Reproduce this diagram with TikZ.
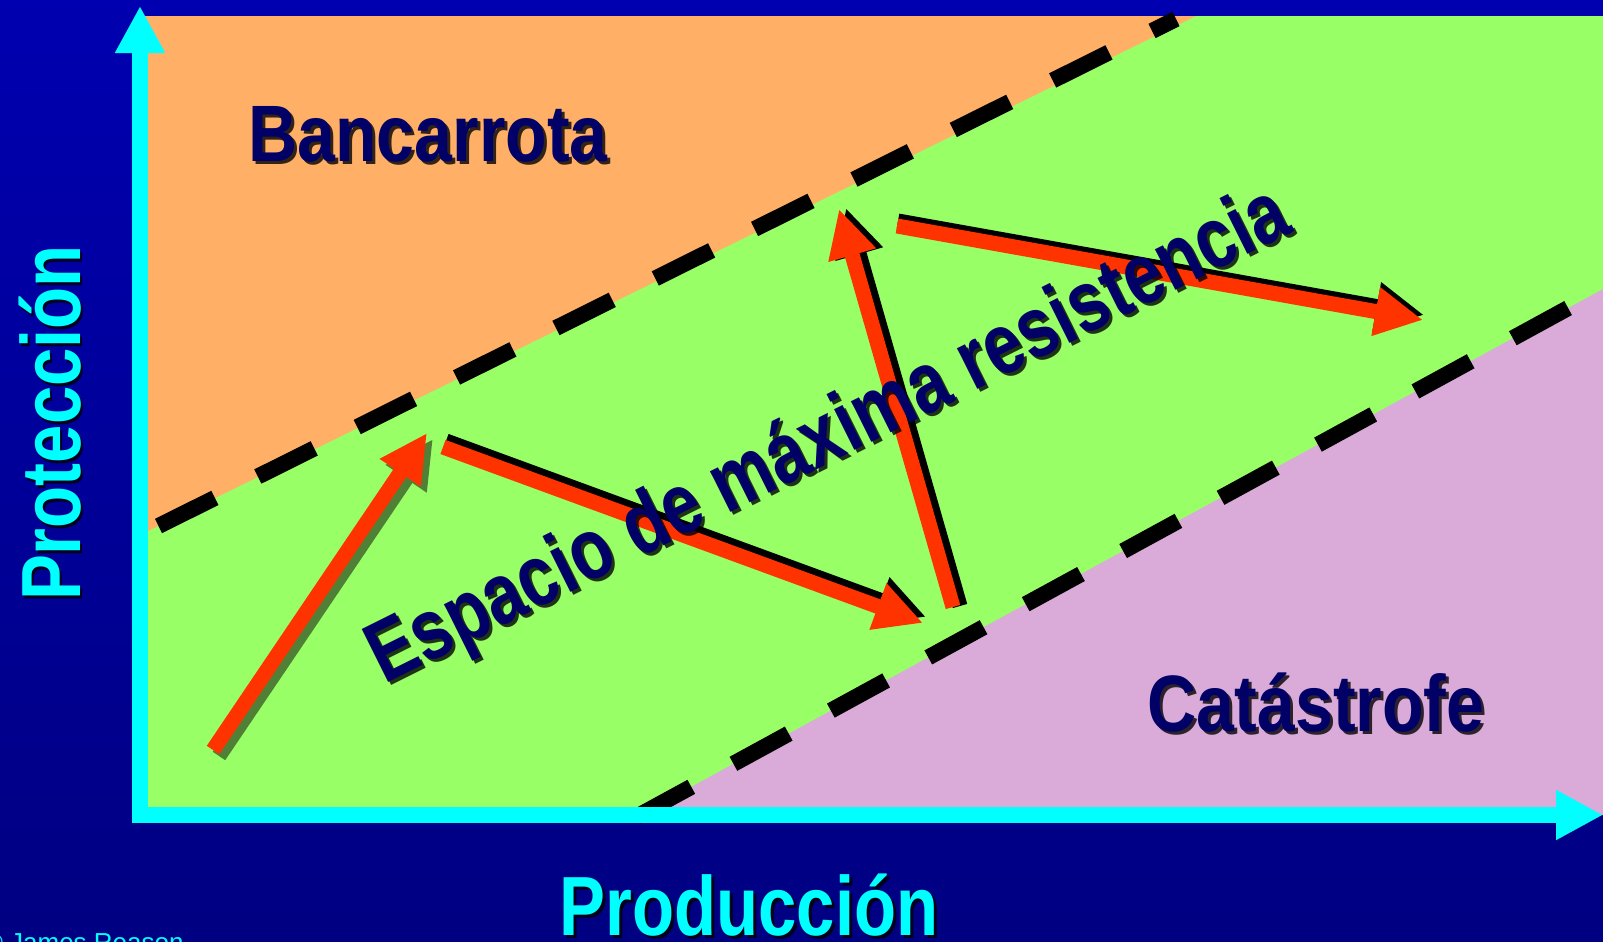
\documentclass[tikz,border=0pt]{standalone}
\usepackage{fontspec}
\setmainfont{Liberation Sans}
\usepackage{xcolor}
\usetikzlibrary{arrows.meta}
\definecolor{bgtop}{HTML}{0000B0}
\definecolor{bgmid}{HTML}{0000D4}
\definecolor{bgbot}{HTML}{000082}
\definecolor{zorange}{HTML}{FFB066}
\definecolor{zgreen}{HTML}{99FF66}
\definecolor{zpink}{HTML}{DAAAD8}
\definecolor{navy}{HTML}{000066}
\definecolor{aqua}{HTML}{00FFFF}
\definecolor{arrowred}{HTML}{FF3300}
\definecolor{leafshadow}{HTML}{4F8036}
\newcommand{\squeeze}[2][0.85]{\scalebox{#1}[1]{#2}}
\tikzstyle{border} = [line width=8pt, black, dash pattern=on 31.5pt off 24pt]
\tikzstyle{axis} = [line width=8pt, aqua, -{Triangle[length=23.5pt,width=23.5pt]}]
\tikzstyle{move} = [line width=7.5pt, -{Triangle[length=24pt,width=23pt]}]
\tikzstyle{zonelabel} = [text=navy, font=\bfseries\fontsize{40}{40}\selectfont, inner sep=0pt, anchor=base]
\tikzstyle{axislabel} = [text=aqua, font=\bfseries\fontsize{42}{42}\selectfont, inner sep=0pt, anchor=base]
\tikzstyle{drop} = [text=black, opacity=0.8]

\begin{document}
\begin{tikzpicture}[x=0.5pt,y=-0.5pt]
  \useasboundingbox (0,0) rectangle (1603,942);
  \clip (0,0) rectangle (1603,942);
  \shade[top color=bgtop, middle color=bgmid, bottom color=bgbot] (0,0) rectangle (1603,942);

  % zones
  \coordinate (TL) at (140,16);
  \coordinate (BR) at (1603,815);
  \coordinate (U_a) at (140,535);
  \coordinate (U_b) at (1196,16);
  \coordinate (L_a) at (636,817);
  \coordinate (L_b) at (1603,289);
  \fill[zgreen] (TL) rectangle (BR);
  \fill[zorange] (TL) -- (U_b) -- (U_a) -- cycle;
  \fill[zpink] (L_a) -- (L_b) -- (BR) -- cycle;

  % limits
  \coordinate (U_s) at (158.5,526);
  \coordinate (U_e) at (1176,19);
  \draw[border] (U_s) -- (U_e);
  \draw[border] (L_a) -- (L_b);

  % axes
  \coordinate (O_y) at (140,823);
  \coordinate (Y_tip) at (140,6);
  \coordinate (O_x) at (132,815);
  \coordinate (X_tip) at (1603,815);
  \draw[axis] (O_y) -- (Y_tip);
  \draw[axis] (O_x) -- (X_tip);

  % path of the system
  \coordinate (P0) at (213,750);
  \coordinate (P1) at (427,433);
  \coordinate (P2) at (443,447);
  \coordinate (P3) at (923,623);
  \coordinate (P4) at (953,607);
  \coordinate (P5) at (839,209);
  \coordinate (P6) at (897,226);
  \coordinate (P7) at (1423,320);
  \draw[move, leafshadow] ([shift={(6,6)}]P0) -- ([shift={(6,6)}]P1);
  \draw[move, arrowred] (P0) -- (P1);
  \draw[move, black] ([shift={(3,-6)}]P2) -- ([shift={(3,-6)}]P3);
  \draw[move, arrowred] (P2) -- (P3);
  \draw[move, black] ([shift={(7,-1)}]P4) -- ([shift={(7,-1)}]P5);
  \draw[move, arrowred] (P4) -- (P5);
  \draw[move, black] ([shift={(1,-5)}]P6) -- ([shift={(1,-5)}]P7);
  \draw[move, arrowred] (P6) -- (P7);

  % labels
  \node[zonelabel, drop] (bank_s) at (431,164.5) {\squeeze{Bancarrota}};
  \node[zonelabel] (bank) at (428,161.5) {\squeeze{Bancarrota}};
  \node[zonelabel, drop] (cat_s) at (1319,734) {\squeeze{Catástrofe}};
  \node[zonelabel] (cat) at (1316,731) {\squeeze{Catástrofe}};
  \node[zonelabel, drop, rotate=26.5, font=\bfseries\fontsize{43}{43}\selectfont] (space_s) at (843,461) {\squeeze[0.8]{Espacio de máxima resistencia}};
  \node[zonelabel, rotate=26.5, font=\bfseries\fontsize{43}{43}\selectfont] (space) at (840,458) {\squeeze[0.8]{Espacio de máxima resistencia}};
  \node[axislabel, drop] (prod_s) at (752,938) {\squeeze[0.82]{Producción}};
  \node[axislabel] (prod) at (749,935) {\squeeze[0.82]{Producción}};
  \node[axislabel, drop, rotate=90] (prot_s) at (83,426) {\squeeze[0.82]{Protección}};
  \node[axislabel, rotate=90] (prot) at (80,423) {\squeeze[0.82]{Protección}};
  \node[anchor=base east, text=aqua, font=\fontsize{13}{13}\selectfont, inner sep=0pt] (credit) at (184,951) {© James Reason};
\end{tikzpicture}
\end{document}
